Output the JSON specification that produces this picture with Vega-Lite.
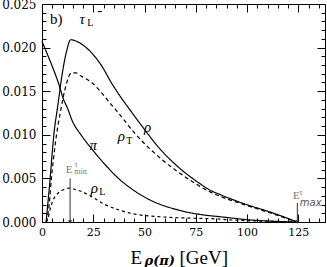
{
  "$schema": "https://vega.github.io/schema/vega-lite/v6.json",
  "width": 283,
  "height": 218,
  "autosize": {"type": "none"},
  "padding": {"left": 42, "top": 4, "right": 2, "bottom": 45},
  "background": "white",
  "config": {
    "view": {"stroke": "black", "strokeWidth": 1},
    "font": "Liberation Serif",
    "axis": {"domain": false, "grid": false, "tickColor": "black", "labelColor": "black", "titleColor": "black", "labelOverlap": false, "labelFlush": false, "tickWidth": 1}
  },
  "datasets": {
    "curves": [
      {"curve": "rho", "E": 2.0, "f": 0.0},
      {"curve": "rho", "E": 3.0, "f": 0.0025},
      {"curve": "rho", "E": 3.8, "f": 0.0045},
      {"curve": "rho", "E": 5.0, "f": 0.008},
      {"curve": "rho", "E": 6.0, "f": 0.0105},
      {"curve": "rho", "E": 7.5, "f": 0.013},
      {"curve": "rho", "E": 9.8, "f": 0.0169},
      {"curve": "rho", "E": 12.0, "f": 0.0196},
      {"curve": "rho", "E": 14.0, "f": 0.0209},
      {"curve": "rho", "E": 16.0, "f": 0.0208},
      {"curve": "rho", "E": 19.3, "f": 0.0204},
      {"curve": "rho", "E": 24.2, "f": 0.0194},
      {"curve": "rho", "E": 29.1, "f": 0.0179},
      {"curve": "rho", "E": 34.0, "f": 0.0159},
      {"curve": "rho", "E": 37.3, "f": 0.0147},
      {"curve": "rho", "E": 44.0, "f": 0.0125},
      {"curve": "rho", "E": 49.7, "f": 0.0107},
      {"curve": "rho", "E": 57.8, "f": 0.0083},
      {"curve": "rho", "E": 66.0, "f": 0.0064},
      {"curve": "rho", "E": 75.8, "f": 0.0046},
      {"curve": "rho", "E": 82.4, "f": 0.0036},
      {"curve": "rho", "E": 87.3, "f": 0.0031},
      {"curve": "rho", "E": 98.5, "f": 0.0021},
      {"curve": "rho", "E": 111.8, "f": 0.0011},
      {"curve": "rho", "E": 124.5, "f": 0.0},
      {"curve": "rhoT", "E": 2.2, "f": 0.0},
      {"curve": "rhoT", "E": 3.5, "f": 0.002},
      {"curve": "rhoT", "E": 4.6, "f": 0.005},
      {"curve": "rhoT", "E": 6.5, "f": 0.009},
      {"curve": "rhoT", "E": 9.2, "f": 0.0129},
      {"curve": "rhoT", "E": 11.5, "f": 0.0155},
      {"curve": "rhoT", "E": 14.4, "f": 0.0171},
      {"curve": "rhoT", "E": 16.5, "f": 0.0171},
      {"curve": "rhoT", "E": 19.3, "f": 0.0167},
      {"curve": "rhoT", "E": 24.2, "f": 0.016},
      {"curve": "rhoT", "E": 29.1, "f": 0.0148},
      {"curve": "rhoT", "E": 34.0, "f": 0.0134},
      {"curve": "rhoT", "E": 37.3, "f": 0.0125},
      {"curve": "rhoT", "E": 44.8, "f": 0.0103},
      {"curve": "rhoT", "E": 57.8, "f": 0.0073},
      {"curve": "rhoT", "E": 66.0, "f": 0.0058},
      {"curve": "rhoT", "E": 74.2, "f": 0.0045},
      {"curve": "rhoT", "E": 82.4, "f": 0.0034},
      {"curve": "rhoT", "E": 87.3, "f": 0.0029},
      {"curve": "rhoT", "E": 98.5, "f": 0.002},
      {"curve": "rhoT", "E": 111.8, "f": 0.001},
      {"curve": "rhoT", "E": 124.5, "f": 0.0},
      {"curve": "rhoL", "E": 2.0, "f": 0.0},
      {"curve": "rhoL", "E": 2.9, "f": 0.0004},
      {"curve": "rhoL", "E": 4.0, "f": 0.0015},
      {"curve": "rhoL", "E": 5.4, "f": 0.0025},
      {"curve": "rhoL", "E": 7.8, "f": 0.0033},
      {"curve": "rhoL", "E": 10.5, "f": 0.0037},
      {"curve": "rhoL", "E": 13.6, "f": 0.0039},
      {"curve": "rhoL", "E": 16.5, "f": 0.0037},
      {"curve": "rhoL", "E": 19.3, "f": 0.0035},
      {"curve": "rhoL", "E": 24.2, "f": 0.0029},
      {"curve": "rhoL", "E": 30.7, "f": 0.002},
      {"curve": "rhoL", "E": 37.3, "f": 0.0014},
      {"curve": "rhoL", "E": 43.1, "f": 0.001},
      {"curve": "rhoL", "E": 57.8, "f": 0.0006},
      {"curve": "rhoL", "E": 74.2, "f": 0.00043},
      {"curve": "rhoL", "E": 82.4, "f": 0.00038},
      {"curve": "rhoL", "E": 95.0, "f": 0.0002},
      {"curve": "rhoL", "E": 107.0, "f": 0.0001},
      {"curve": "rhoL", "E": 124.5, "f": 0.0},
      {"curve": "pi", "E": 0.0, "f": 0.0207},
      {"curve": "pi", "E": 3.9, "f": 0.0185},
      {"curve": "pi", "E": 8.2, "f": 0.0158},
      {"curve": "pi", "E": 10.3, "f": 0.0142},
      {"curve": "pi", "E": 12.7, "f": 0.0129},
      {"curve": "pi", "E": 14.4, "f": 0.0118},
      {"curve": "pi", "E": 19.3, "f": 0.0099},
      {"curve": "pi", "E": 24.2, "f": 0.0084},
      {"curve": "pi", "E": 30.7, "f": 0.0066},
      {"curve": "pi", "E": 37.3, "f": 0.005},
      {"curve": "pi", "E": 43.1, "f": 0.0039},
      {"curve": "pi", "E": 52.9, "f": 0.0025},
      {"curve": "pi", "E": 66.0, "f": 0.0014},
      {"curve": "pi", "E": 79.0, "f": 0.0008},
      {"curve": "pi", "E": 87.0, "f": 0.0006},
      {"curve": "pi", "E": 98.5, "f": 0.0003},
      {"curve": "pi", "E": 124.5, "f": 0.0}
    ],
    "labels": [
      {"group": "greek", "text": "ρ", "E": 51.5, "f": 0.0109},
      {"group": "greek", "text": "ρ", "E": 38.7, "f": 0.00986},
      {"group": "greek", "text": "π", "E": 25.0, "f": 0.00883},
      {"group": "greek", "text": "ρ", "E": 25.5, "f": 0.0039},
      {"group": "greek", "text": "τ", "E": 19.6, "f": 0.0233},
      {"group": "roman", "text": "b)", "E": 6.9, "f": 0.0233},
      {"group": "roman", "text": "-", "E": 28.2, "f": 0.0243},
      {"group": "sub", "text": "T", "E": 42.6, "f": 0.00929},
      {"group": "sub", "text": "L", "E": 29.4, "f": 0.00344},
      {"group": "sub", "text": "L", "E": 23.5, "f": 0.0228},
      {"group": "eg", "text": "E", "E": 13.2, "f": 0.00596},
      {"group": "eg", "text": "E", "E": 124.0, "f": 0.00298},
      {"group": "egs", "text": "τ", "E": 15.9, "f": 0.00655},
      {"group": "egs", "text": "min", "E": 15.7, "f": 0.00568},
      {"group": "egs", "text": "τ", "E": 125.4, "f": 0.0033},
      {"group": "max", "text": "max", "E": 125.7, "f": 0.00218}
    ],
    "arrows": [
      {"E": 13.7, "top": 0.005, "bottom": 0.0},
      {"E": 124.5, "top": 0.0022, "bottom": 0.0}
    ]
  },
  "resolve": {"axis": {"x": "independent", "y": "independent"}},
  "layer": [
    {
      "data": {"name": "curves"},
      "mark": {"type": "line", "color": "black", "strokeWidth": 1.2, "interpolate": "monotone"},
      "encoding": {
        "x": {"field": "E", "type": "quantitative", "scale": {"domain": [0, 138], "nice": false, "zero": false},
          "axis": {"orient": "bottom", "values": [0,5,10,15,20,25,30,35,40,45,50,55,60,65,70,75,80,85,90,95,100,105,110,115,120,125,130,135],
            "labelExpr": "datum.value % 25 === 0 ? datum.label : ''",
            "tickSize": {"condition": {"test": "datum.value % 25 === 0", "value": -8}, "value": -4},
            "labelPadding": 12, "labelFont": "DejaVu Serif", "labelFontSize": 11,
            "title": "E", "titleFont": "Liberation Serif", "titleFontSize": 19, "titleFontWeight": "normal",
            "titleAlign": "left", "titleAnchor": "start", "titleBaseline": "alphabetic", "titleX": 88, "titleY": 41}},
        "y": {"field": "f", "type": "quantitative", "scale": {"domain": [0, 0.025], "nice": false, "zero": false},
          "axis": {"orient": "left", "values": [0,0.001,0.002,0.003,0.004,0.005,0.006,0.007,0.008,0.009,0.01,0.011,0.012,0.013,0.014,0.015,0.016,0.017,0.018,0.019,0.02,0.021,0.022,0.023,0.024,0.025],
            "format": ".3f",
            "labelExpr": "abs(datum.value/0.005 - round(datum.value/0.005)) < 1e-6 ? datum.label : ''",
            "tickSize": {"condition": {"test": "abs(datum.value/0.005 - round(datum.value/0.005)) < 1e-6", "value": -8}, "value": -4},
            "labelPadding": 14, "labelFont": "DejaVu Serif", "labelFontSize": 12, "title": null}},
        "strokeDash": {"field": "curve", "type": "nominal",
          "scale": {"domain": ["rho", "rhoT", "rhoL", "pi"], "range": [[1, 0], [4, 3], [3, 3], [1, 0]]}, "legend": null}
      }
    },
    {
      "data": {"name": "labels"},
      "transform": [{"filter": "datum.group === 'greek'"}],
      "mark": {"type": "text", "font": "Liberation Serif", "fontStyle": "italic", "fontSize": 15, "baseline": "middle", "align": "center", "color": "black"},
      "encoding": {
        "x": {"field": "E", "type": "quantitative", "scale": {"domain": [0, 138], "nice": false, "zero": false},
          "axis": {"orient": "top", "values": [0,5,10,15,20,25,30,35,40,45,50,55,60,65,70,75,80,85,90,95,100,105,110,115,120,125,130,135],
            "labels": false, "title": null,
            "tickSize": {"condition": {"test": "datum.value % 25 === 0", "value": -8}, "value": -4}}},
        "y": {"field": "f", "type": "quantitative", "scale": {"domain": [0, 0.025], "nice": false, "zero": false},
          "axis": {"orient": "right", "values": [0,0.001,0.002,0.003,0.004,0.005,0.006,0.007,0.008,0.009,0.01,0.011,0.012,0.013,0.014,0.015,0.016,0.017,0.018,0.019,0.02,0.021,0.022,0.023,0.024,0.025],
            "labels": false, "title": null,
            "tickSize": {"condition": {"test": "abs(datum.value/0.005 - round(datum.value/0.005)) < 1e-6", "value": -8}, "value": -4}}},
        "text": {"field": "text"}
      }
    },
    {
      "data": {"name": "labels"},
      "transform": [{"filter": "datum.group === 'roman'"}],
      "mark": {"type": "text", "font": "Liberation Serif", "fontSize": 15, "baseline": "middle", "align": "center", "color": "black"},
      "encoding": {
        "x": {"field": "E", "type": "quantitative", "scale": {"domain": [0, 138], "nice": false, "zero": false},
          "axis": {"orient": "bottom", "ticks": false, "labels": false, "domain": false,
            "title": "ρ(π)", "titleFont": "DejaVu Serif", "titleFontSize": 13, "titleFontStyle": "italic", "titleFontWeight": "bold",
            "titleAlign": "left", "titleAnchor": "start", "titleBaseline": "alphabetic", "titleX": 102, "titleY": 42}},
        "y": {"field": "f", "type": "quantitative", "scale": {"domain": [0, 0.025], "nice": false, "zero": false}, "axis": null},
        "text": {"field": "text"}
      }
    },
    {
      "data": {"name": "labels"},
      "transform": [{"filter": "datum.group === 'sub'"}],
      "mark": {"type": "text", "font": "Liberation Serif", "fontSize": 10, "baseline": "middle", "align": "center", "color": "black"},
      "encoding": {
        "x": {"field": "E", "type": "quantitative", "scale": {"domain": [0, 138], "nice": false, "zero": false},
          "axis": {"orient": "bottom", "ticks": false, "labels": false, "domain": false,
            "title": "[GeV]", "titleFont": "Liberation Serif", "titleFontSize": 19, "titleFontWeight": "normal",
            "titleAlign": "left", "titleAnchor": "start", "titleBaseline": "alphabetic", "titleX": 137, "titleY": 41}},
        "y": {"field": "f", "type": "quantitative", "scale": {"domain": [0, 0.025], "nice": false, "zero": false}, "axis": null},
        "text": {"field": "text"}
      }
    },
    {
      "data": {"name": "labels"},
      "transform": [{"filter": "datum.group === 'eg'"}],
      "mark": {"type": "text", "font": "Liberation Serif", "fontSize": 11, "baseline": "middle", "align": "center", "color": "#777777"},
      "encoding": {
        "x": {"field": "E", "type": "quantitative", "scale": {"domain": [0, 138], "nice": false, "zero": false}, "axis": null},
        "y": {"field": "f", "type": "quantitative", "scale": {"domain": [0, 0.025], "nice": false, "zero": false}, "axis": null},
        "text": {"field": "text"}
      }
    },
    {
      "data": {"name": "labels"},
      "transform": [{"filter": "datum.group === 'egs'"}],
      "mark": {"type": "text", "font": "Liberation Serif", "fontSize": 8, "baseline": "middle", "align": "left", "color": "#777777"},
      "encoding": {
        "x": {"field": "E", "type": "quantitative", "scale": {"domain": [0, 138], "nice": false, "zero": false}, "axis": null},
        "y": {"field": "f", "type": "quantitative", "scale": {"domain": [0, 0.025], "nice": false, "zero": false}, "axis": null},
        "text": {"field": "text"}
      }
    },
    {
      "data": {"name": "labels"},
      "transform": [{"filter": "datum.group === 'max'"}],
      "mark": {"type": "text", "font": "DejaVu Sans", "fontStyle": "italic", "fontSize": 10, "baseline": "middle", "align": "left", "color": "#555555"},
      "encoding": {
        "x": {"field": "E", "type": "quantitative", "scale": {"domain": [0, 138], "nice": false, "zero": false}, "axis": null},
        "y": {"field": "f", "type": "quantitative", "scale": {"domain": [0, 0.025], "nice": false, "zero": false}, "axis": null},
        "text": {"field": "text"}
      }
    },
    {
      "data": {"name": "arrows"},
      "mark": {"type": "rule", "color": "#333333", "strokeWidth": 1},
      "encoding": {
        "x": {"field": "E", "type": "quantitative", "scale": {"domain": [0, 138], "nice": false, "zero": false}, "axis": null},
        "y": {"field": "top", "type": "quantitative", "scale": {"domain": [0, 0.025], "nice": false, "zero": false}, "axis": null},
        "y2": {"field": "bottom"}
      }
    },
    {
      "data": {"name": "arrows"},
      "mark": {"type": "point", "shape": "triangle-down", "filled": true, "color": "#333333", "size": 18, "opacity": 1},
      "encoding": {
        "x": {"field": "E", "type": "quantitative", "scale": {"domain": [0, 138], "nice": false, "zero": false}, "axis": null},
        "y": {"field": "bottom", "type": "quantitative", "scale": {"domain": [0, 0.025], "nice": false, "zero": false}, "axis": null}
      }
    }
  ]
}
